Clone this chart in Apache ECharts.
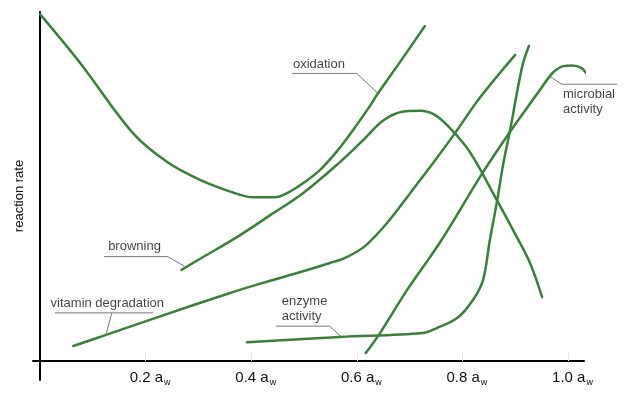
<!DOCTYPE html>
<html>
<head>
<meta charset="utf-8">
<script src="https://cdn.jsdelivr.net/npm/echarts@6/dist/echarts.min.js"></script>
<style>
html,body{margin:0;padding:0;background:#fff;}
#chart{width:624px;height:403px;}
</style>
</head>
<body>
<div id="chart"></div>
<script>
// ---- data (water activity a_w on x, relative reaction rate on y) ----
var xTickValues = [0.2, 0.4, 0.6, 0.8, 1.0];
var xTickLabels = ['0.2', '0.4', '0.6', '0.8', '1.0'];

var oxidationX = [0, 0.076, 0.176, 0.241, 0.303, 0.369, 0.403, 0.445, 0.468, 0.496, 0.530, 0.563, 0.593, 0.625, 0.638, 0.682, 0.729];
var oxidationY = [99.4, 85.4, 65.3, 57.0, 51.9, 48.1, 46.9, 46.9, 48.1, 50.7, 54.7, 60.2, 66.2, 73.1, 76.2, 85.7, 96.0];

var browningX = [0.268, 0.309, 0.373, 0.436, 0.498, 0.568, 0.612, 0.650, 0.686, 0.720, 0.747, 0.773, 0.806, 0.827, 0.858, 0.896, 0.928, 0.951];
var browningY = [26.1, 29.8, 35.5, 41.8, 48.1, 57.0, 63.3, 68.9, 71.4, 71.7, 70.6, 67.3, 61.6, 56.7, 48.1, 37.5, 28.1, 18.3];

var vitaminX = [0.063, 0.125, 0.208, 0.360, 0.422, 0.487, 0.549, 0.581, 0.616, 0.657, 0.701, 0.742, 0.786, 0.833, 0.900];
var vitaminY = [4.3, 7.5, 11.8, 19.5, 22.4, 25.2, 28.1, 29.8, 33.0, 39.5, 48.1, 56.2, 65.3, 75.4, 87.7];

var enzymeX = [0.392, 0.568, 0.725, 0.752, 0.790, 0.820, 0.839, 0.852, 0.866, 0.877, 0.890, 0.913, 0.926];
var enzymeY = [5.4, 6.9, 8.0, 9.5, 12.3, 17.5, 23.2, 34.7, 46.1, 56.2, 65.9, 84.2, 90.3];

var microbialX = [0.617, 0.644, 0.695, 0.758, 0.837, 0.890, 0.947, 0.966, 0.977, 0.991, 1.008, 1.025, 1.036, 1.042];
var microbialY = [2.3, 8.0, 20.3, 34.1, 53.6, 65.6, 77.7, 81.7, 83.4, 84.5, 84.7, 84.0, 82.2, 80.5];

// annotation texts and their anchor points (data units)
var annotationNames = ['oxidation', 'browning', 'vitamin degradation', 'enzyme\nactivity', 'microbial\nactivity'];
var annotationX = [0.479, 0.129, 0.020, 0.458, 0.9905];
var annotationY = [82.4, 29.9, 13.8, 10.0, 79.3];

// leader lines (data units)
var leaderOxidation = [[0.477, 82.4], [0.600, 82.4], [0.640, 76.7]];
var leaderBrowning = [[0.121, 29.9], [0.242, 29.9], [0.273, 27.2]];
var leaderVitaminBar = [[0.028, 13.8], [0.214, 13.8]];
var leaderVitaminTick = [[0.136, 13.8], [0.125, 7.45]];
var leaderEnzyme = [[0.447, 10.0], [0.549, 10.0], [0.571, 6.8]];
var leaderMicrobial = [[0.966, 81.5], [0.988, 79.3], [1.093, 79.3]];

function zip(xs, ys) { return xs.map(function (x, i) { return [x, ys[i]]; }); }

var GREEN = '#3b7f3b';
var FONT = '"Liberation Sans", Arial, Helvetica, sans-serif';

function curve(name, xs, ys) {
  return {
    name: name, type: 'line', data: zip(xs, ys),
    smooth: 0.35, showSymbol: false, symbol: 'none', clip: false, silent: true,
    lineStyle: { color: GREEN, width: 2.5, cap: 'round' }
  };
}

var labelCfg = [
  { position: 'top', distance: 1 },
  { position: 'top', distance: 2 },
  { position: 'top', distance: 1 },
  { position: 'top', distance: 2 },
  { position: 'bottom', distance: 2 }
];

var annotationData = annotationNames.map(function (n, i) {
  var c = labelCfg[i];
  return {
    name: n,
    value: [annotationX[i], annotationY[i]],
    label: {
      show: true, formatter: '{b}', position: c.position, distance: c.distance,
      align: 'left', verticalAlign: c.position === 'top' ? 'bottom' : 'top',
      fontSize: 13, lineHeight: 15, color: '#111', fontFamily: FONT
    }
  };
});

var chart = echarts.init(document.getElementById('chart'), null, { renderer: 'canvas' });
chart.setOption({
  animation: false,
  backgroundColor: '#fff',
  textStyle: { fontFamily: FONT },
  grid: { left: 33, right: 40, top: 12, bottom: 23, containLabel: false, outerBoundsMode: 'none' },
  xAxis: {
    type: 'value', min: -0.0133, max: 1.0303,
    axisLine: { show: true, onZero: true, lineStyle: { color: '#000', width: 2 } },
    axisTick: { show: true, inside: true, length: 8, customValues: xTickValues, lineStyle: { color: '#e6e6e6', width: 1 } },
    splitLine: { show: false },
    axisLabel: {
      customValues: xTickValues, margin: -12, color: '#111', padding: [0, 0, 0, 9],
      formatter: function (v) {
        var i = xTickValues.indexOf(v);
        var t = i >= 0 ? xTickLabels[i] : v.toFixed(1);
        return '{n|' + t + ' a}{s|w}';
      },
      rich: {
        n: { fontSize: 15, fontFamily: FONT, color: '#111' },
        s: { fontSize: 9, fontFamily: FONT, color: '#111', padding: [10, 0, 0, 1] }
      }
    },
    name: 'water activity   a{s|w}',
    nameLocation: 'middle', nameGap: 25,
    nameTextStyle: {
      fontSize: 13, color: '#111', fontFamily: FONT, padding: [0, 0, 0, 16],
      rich: { s: { fontSize: 8, fontFamily: FONT, color: '#111', padding: [9, 0, 0, 1] } }
    }
  },
  yAxis: {
    type: 'value', min: -5.44, max: 100,
    axisLine: { show: true, onZero: true, lineStyle: { color: '#000', width: 2 } },
    axisTick: { show: false }, axisLabel: { show: false }, splitLine: { show: false },
    name: 'reaction rate', nameLocation: 'middle', nameGap: 7,
    nameTextStyle: { fontSize: 13, color: '#111', fontFamily: FONT }
  },
  series: [
    {
      name: 'leaders', type: 'lines', coordinateSystem: 'cartesian2d', polyline: true,
      silent: true, clip: false, z: 1,
      lineStyle: { color: '#7a7a7a', width: 1, opacity: 1, curveness: 0 },
      data: [leaderOxidation, leaderBrowning, leaderVitaminBar, leaderVitaminTick, leaderEnzyme, leaderMicrobial]
        .map(function (c) { return { coords: c }; })
    },
    curve('oxidation', oxidationX, oxidationY),
    curve('browning', browningX, browningY),
    curve('vitamin degradation', vitaminX, vitaminY),
    curve('enzyme activity', enzymeX, enzymeY),
    curve('microbial activity', microbialX, microbialY),
    {
      name: 'annotations', type: 'scatter', symbolSize: 1, silent: true, clip: false,
      itemStyle: { color: 'rgba(0,0,0,0)' },
      data: annotationData
    }
  ]
});
</script>
</body>
</html>
